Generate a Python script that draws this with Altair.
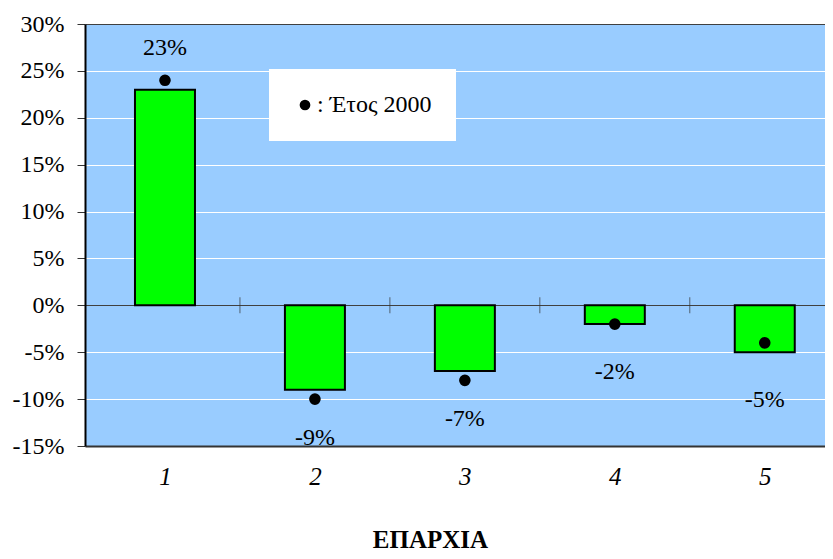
import altair as alt
import pandas as pd

# ---- data ----
categories = [1, 2, 3, 4, 5]
change_values = [23, -9, -7, -2, -5]          # bars (%)
year2000_values = [24, -10, -8, -2, -4]       # black dots (%)
legend_label = ": Έτος 2000"
y_ticks = [-15, -10, -5, 0, 5, 10, 15, 20, 25, 30]
x_title = "ΕΠΑΡΧΙΑ"

FONT = "Liberation Serif"
PLOT_W, PLOT_H = 740, 422
STEP = 152  # pixel width of one category slot

df = pd.DataFrame({
    "cat": categories,
    "val": change_values,
    "y2000": year2000_values,
    "series": [legend_label] * len(categories),
})
df["label"] = [f"{v}%" for v in change_values]
bounds = pd.DataFrame({"b": [c + 0.5 for c in categories[:-1]]})
bounds["zero"] = 0

xscale = alt.Scale(domain=[0.5, 0.5 + PLOT_W / STEP], nice=False, zero=False)
yscale = alt.Scale(domain=[-15, 30], nice=False)

x_axis = alt.Axis(
    values=categories, format="d", labelFont=FONT, labelFontSize=25,
    labelFontStyle="italic", labelColor="black", ticks=False,
    domainColor="#333333", domainWidth=2, labelPadding=18, labelFlush=False,
    grid=False, title=x_title, titleFont=FONT, titleFontSize=25,
    titleFontWeight="bold", titleColor="black", titleX=345, titleY=101,
    titleBaseline="alphabetic",
)
y_axis = alt.Axis(
    values=y_ticks, labelExpr="datum.value + '%'", labelFont=FONT,
    labelFontSize=24, labelColor="black", tickSize=8, tickColor="#333333",
    labelPadding=13, domainColor="black", domainWidth=2, title=None,
    gridColor={"condition": {"test": "datum.value == 0 || datum.value == 30",
                             "value": "#404040"}, "value": "white"},
    gridWidth=1, gridOpacity=1,
)

X = alt.X("cat:Q", scale=xscale, axis=x_axis)
Y = alt.Y("val:Q", scale=yscale, axis=y_axis)

bars = alt.Chart(df).mark_bar(
    width=60, fill="#00FF00", stroke="black", strokeWidth=2
).encode(x=X, y=Y)

ticks = alt.Chart(bounds).mark_tick(
    orient="vertical", size=16, thickness=1, color="#333333"
).encode(x=alt.X("b:Q", scale=xscale, axis=x_axis),
         y=alt.Y("zero:Q", scale=yscale, axis=y_axis))

dots = alt.Chart(df).mark_circle(size=135, opacity=1).encode(
    x=X,
    y=alt.Y("y2000:Q", scale=yscale, axis=y_axis),
    color=alt.Color("series:N", scale=alt.Scale(range=["black"]),
                    legend=alt.Legend(
                        title=None, orient="none", legendX=184, legendY=45,
                        fillColor="white", padding=24, symbolType="circle",
                        symbolSize=115, symbolStrokeWidth=0, labelFont=FONT,
                        labelFontSize=24, labelColor="black", labelOffset=0,
                        labelLimit=400)),
)

pos_labels = alt.Chart(df).transform_filter("datum.val > 0").mark_text(
    dy=-42, font=FONT, fontSize=24, color="black"
).encode(x=X, y=Y, text="label:N")

neg_labels = alt.Chart(df).transform_filter("datum.val < 0").mark_text(
    dy=48, font=FONT, fontSize=24, color="black"
).encode(x=X, y=Y, text="label:N")

chart = alt.layer(bars, ticks, dots, pos_labels, neg_labels).properties(
    width=PLOT_W, height=PLOT_H,
    autosize=alt.AutoSizeParams(type="none"),
    padding={"left": 77, "top": 16, "right": 0, "bottom": 105},
    background="white",
).configure_view(fill="#99CCFF", stroke=None)

chart.save("out.html", embed_options={"renderer": "svg", "actions": False})
